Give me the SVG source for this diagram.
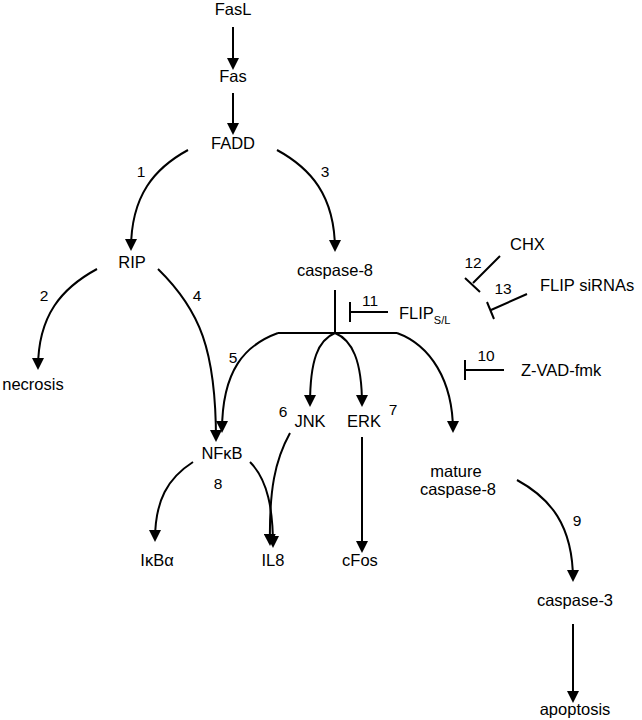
<svg xmlns="http://www.w3.org/2000/svg" width="642" height="720" viewBox="0 0 642 720">
<style>
text{font-family:"Liberation Sans",Arial,sans-serif;font-size:16.5px;fill:#000}
.n{text-anchor:middle}
.lbl{font-size:15.5px;text-anchor:middle}
.sub{font-size:11px}
.c{fill:none;stroke:#000;stroke-width:2}
.a{marker-end:url(#ah)}
</style>
<defs>
<marker id="ah" markerUnits="userSpaceOnUse" viewBox="0 0 12 12" markerWidth="12" markerHeight="12" refX="10" refY="6" orient="auto">
<path d="M0,0 L12,6 L0,12 z" fill="#000"/>
</marker>
</defs>
<rect width="642" height="720" fill="#fff"/>
<g id="connectors">
<path class="c a" d="M233,27 L233,68"/>
<path class="c a" d="M233,93 L233,133"/>
<path class="c a" d="M188,150 C155,168 131,195 131,249"/>
<path class="c a" d="M277,150 C310,168 335,195 335,250"/>
<path class="c a" d="M97,269 C62,288 38,315 38,368"/>
<path class="c a" d="M158,269 C200,310 216,350 216,440"/>
<path class="c" d="M335,290 L335,333 M278,333 L397,333"/>
<path class="c a" d="M278,333 C245,345 222,370 222,431"/>
<path class="c a" d="M335,333 C318,340 310,360 310,405"/>
<path class="c a" d="M335,333 C352,340 362,360 362,405"/>
<path class="c a" d="M397,333 C430,345 453,380 453,431"/>
<path class="c a" d="M362,437 L362,551"/>
<path class="c a" d="M290,433 C275,460 269,490 270,544"/>
<path class="c a" d="M250,462 C268,480 273,510 273,546"/>
<path class="c a" d="M193,462 C168,478 155,500 155,540"/>
<path class="c a" d="M517,480 C550,498 573,525 573,580"/>
<path class="c a" d="M573,624 L573,701"/>
<path class="c" d="M388,312 L350,312 M350,302 L350,322"/>
<path class="c" d="M500,256 L473,283 M465,278 L480,292"/>
<path class="c" d="M527,294 L491,310 M487,302 L494,319"/>
<path class="c" d="M504,370 L465,370 M465,360 L465,380"/>
</g>
<g id="labels">
<text class="lbl" x="141" y="177">1</text>
<text class="lbl" x="44" y="301">2</text>
<text class="lbl" x="325" y="177">3</text>
<text class="lbl" x="197" y="301">4</text>
<text class="lbl" x="233" y="363">5</text>
<text class="lbl" x="283" y="417">6</text>
<text class="lbl" x="393" y="415">7</text>
<text class="lbl" x="218" y="489">8</text>
<text class="lbl" x="577" y="526">9</text>
<text class="lbl" x="486" y="361">10</text>
<text class="lbl" x="370" y="306">11</text>
<text class="lbl" x="473" y="268">12</text>
<text class="lbl" x="503" y="294">13</text>
</g>
<g id="FasL"><text class="n" x="233" y="15">FasL</text></g>
<g id="Fas"><text class="n" x="233" y="82">Fas</text></g>
<g id="FADD"><text class="n" x="233" y="149">FADD</text></g>
<g id="RIP"><text class="n" x="132" y="268">RIP</text></g>
<g id="caspase-8"><text class="n" x="335" y="276">caspase-8</text></g>
<g id="necrosis"><text class="n" x="33" y="390">necrosis</text></g>
<g id="NFkB"><text class="n" x="222" y="459">NFκB</text></g>
<g id="JNK"><text class="n" x="310" y="427">JNK</text></g>
<g id="ERK"><text class="n" x="364" y="427">ERK</text></g>
<g id="IkBa"><text class="n" x="157" y="566">IκBα</text></g>
<g id="IL8"><text class="n" x="273" y="566">IL8</text></g>
<g id="cFos"><text class="n" x="360" y="566">cFos</text></g>
<g id="mature-caspase-8"><text class="n" x="456" y="477">mature</text><text class="n" x="458" y="495">caspase-8</text></g>
<g id="caspase-3"><text class="n" x="575" y="606">caspase-3</text></g>
<g id="apoptosis"><text class="n" x="575" y="715">apoptosis</text></g>
<g id="CHX"><text x="510" y="250">CHX</text></g>
<g id="FLIP-siRNAs"><text x="540" y="291">FLIP siRNAs</text></g>
<g id="FLIP-SL"><text x="399" y="319">FLIP<tspan class="sub" dy="5">S/L</tspan></text></g>
<g id="Z-VAD-fmk"><text x="521" y="376">Z-VAD-fmk</text></g>
</svg>
